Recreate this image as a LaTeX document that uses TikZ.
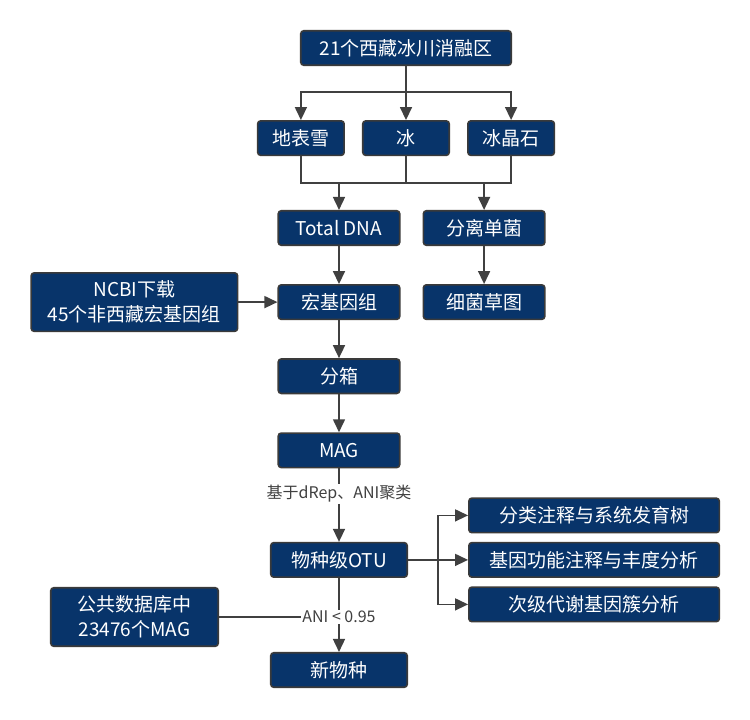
\documentclass[tikz,border=0pt]{standalone}
\usepackage{fontspec}
\newfontfamily\cjk{Noto Sans CJK SC}
\usetikzlibrary{positioning,arrows.meta}
\definecolor{boxblue}{HTML}{08346A}
\definecolor{rim}{HTML}{3A3A3A}
\definecolor{wire}{HTML}{404040}
\tikzset{
	x=1pt,y=1pt,node distance=38pt,
	box/.style={rectangle,rounded corners=3pt,draw=rim,line width=1.6pt,fill=boxblue,text=white,font=\cjk\fontsize{19}{25}\selectfont,minimum width=121.5pt,minimum height=34.5pt,inner sep=0pt,align=center},
	widebox/.style={box,minimum width=210.5pt},
	smallbox/.style={box,minimum width=86.5pt},
	otubox/.style={box,minimum width=136.5pt},
	resbox/.style={box,minimum width=250.5pt},
	srcbox/.style={box,minimum height=58.5pt},
	lab/.style={fill=white,text=wire,font=\cjk\fontsize{16}{19}\selectfont,inner sep=1pt},
	post/.style={-{Triangle[length=13pt,width=12pt]},draw=wire,line width=1.6pt},
	line/.style={draw=wire,line width=1.6pt}
}

\begin{document}
\begin{tikzpicture}
\useasboundingbox (0,0) rectangle (750,-720);
% sampling
\node[widebox] (glacier) at (406,-48) {21个西藏冰川消融区};
\node[smallbox] (ice) [below=54pt of glacier] {冰};
\node[smallbox] (snow) [left=17pt of ice] {地表雪};
\node[smallbox] (cryo) [right=17pt of ice] {冰晶石};
\node[box] (dna) at (339,-228) {Total DNA};
\node[box] (iso) [right=22pt of dna] {分离单菌};
\node[box] (meta) [below=of dna] {宏基因组};
\node[box] (draft) [below=of iso] {细菌草图};
\node[srcbox,minimum width=206.5pt] (ncbi) [left=39pt of meta] {NCBI下载\\45个非西藏宏基因组};
% binning
\node[box] (bin) [below=of meta] {分箱};
\node[box] (mag) [below=of bin] {MAG};
\node[otubox] (otu) [below=73.5pt of mag] {物种级OTU};
\node[otubox] (newsp) [below=74pt of otu] {新物种};
\node[resbox] (tax) [right=60pt of otu,yshift=44.5pt] {分类注释与系统发育树};
\node[resbox] (func) [right=60pt of otu] {基因功能注释与丰度分析};
\node[resbox] (bgc) [right=60pt of otu,yshift=-44.5pt] {次级代谢基因簇分析};
\node[srcbox,minimum width=167.5pt] (pub) at (134.5,-617) {公共数据库中\\23476个MAG};
\node[lab] (drep) [below=16pt of mag] {基于dRep、ANI聚类};
\node[lab] (ani) at (otu |- pub) {ANI < 0.95};
% wires
\coordinate (split) at (glacier |- 0,-92);
\coordinate (merge) at (ice |- 0,-183);
\coordinate[right=30pt of otu] (fork);
\draw[line] (glacier) -- (split);
\draw[post] (split) -| (snow);
\draw[post] (split) -- (ice);
\draw[post] (split) -| (cryo);
\draw[line] (snow) |- (merge);
\draw[line] (cryo) |- (merge);
\draw[line] (ice) -- (merge);
\draw[post] (merge -| dna) -- (dna);
\draw[post] (merge -| iso) -- (iso);
\draw[post] (dna) -- (meta);
\draw[post] (iso) -- (draft);
\draw[post] (ncbi) -- (meta);
\draw[post] (meta) -- (bin);
\draw[post] (bin) -- (mag);
\draw[line] (mag) -- (drep);
\draw[post] (drep) -- (otu);
\draw[post] (otu) -- (func);
\draw[post] (fork) |- (tax);
\draw[post] (fork) |- (bgc);
\draw[line] (otu) -- (ani);
\draw[post] (ani) -- (newsp);
\draw[line] (pub) -- (ani);
\end{tikzpicture}
\end{document}
